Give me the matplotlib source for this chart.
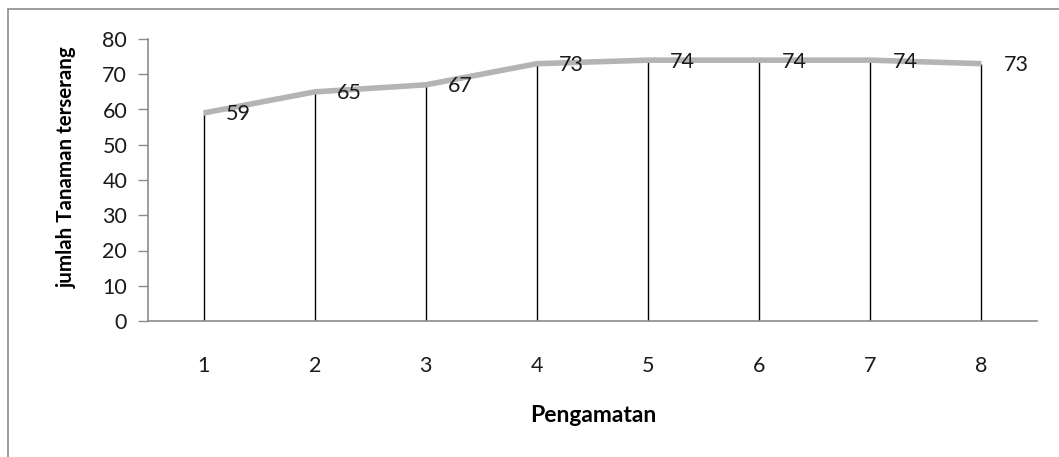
"""
Jumlah tanaman terserang per pengamatan
"""
import numpy as np
import matplotlib.pyplot as plt
from matplotlib.patches import Rectangle

plt.rcParams['font.family'] = ['Lato', 'DejaVu Sans']

pengamatan = [1, 2, 3, 4, 5, 6, 7, 8]
terserang = [59, 65, 67, 73, 74, 74, 74, 73]
y_ticks = [0, 10, 20, 30, 40, 50, 60, 70, 80]

AXIS_GREY = "#8c8c8c"
LINE_GREY = "#b4b4b4"


def main():
    fig = plt.figure(figsize=(10.59, 4.57), dpi=100)
    ax = fig.add_axes([148 / 1059, 136 / 457, 889 / 1059, 282 / 457])

    # outer chart frame
    fig.patches.append(Rectangle((8 / 1059, -0.1), 1.2, 1.0 - 9 / 457 + 0.1,
                                 transform=fig.transFigure, fill=False,
                                 edgecolor=AXIS_GREY, linewidth=1.2))

    x = np.array(pengamatan)
    y = np.array(terserang)

    # drop lines from each point down to zero
    ax.vlines(x, 0, y, colors="black", linewidth=1.0, zorder=2)
    ax.plot(x, y, color=LINE_GREY, linewidth=4.0, solid_capstyle="butt", zorder=3)

    for xi, yi in zip(x, y):
        ax.annotate(str(yi), (xi, yi), xytext=(16, -1), textcoords="offset points",
                    ha="left", va="center", fontsize=15.5, color="#1a1a1a", zorder=4)

    ax.set_xlim(0.5, 8.5)
    ax.set_ylim(0, 80)
    ax.set_xticks(x)
    ax.set_yticks(y_ticks)
    ax.tick_params(axis="x", length=0, pad=25, labelsize=15.5, labelcolor="#1a1a1a")
    ax.tick_params(axis="y", length=7, width=1, color=AXIS_GREY, pad=8,
                   labelsize=15.5, labelcolor="#1a1a1a")

    for side in ["top", "right"]:
        ax.spines[side].set_visible(False)
    ax.spines["left"].set_color(AXIS_GREY)
    ax.spines["bottom"].set_color(AXIS_GREY)
    ax.spines["left"].set_linewidth(1.2)
    ax.spines["bottom"].set_linewidth(1.2)

    ax.set_xlabel("Pengamatan", fontsize=16.5, fontweight="bold")
    ax.set_ylabel("jumlah Tanaman terserang", fontsize=14.8, fontweight="bold")
    ax.xaxis.set_label_coords(0.501, -94 / 282, transform=ax.transAxes)
    ax.yaxis.set_label_coords(-81 / 889, 0.545, transform=ax.transAxes)
    ax.xaxis.label.set_va("center")
    ax.yaxis.label.set_va("center")

    fig.savefig("out.png", dpi=100)


if __name__ == "__main__":
    main()
